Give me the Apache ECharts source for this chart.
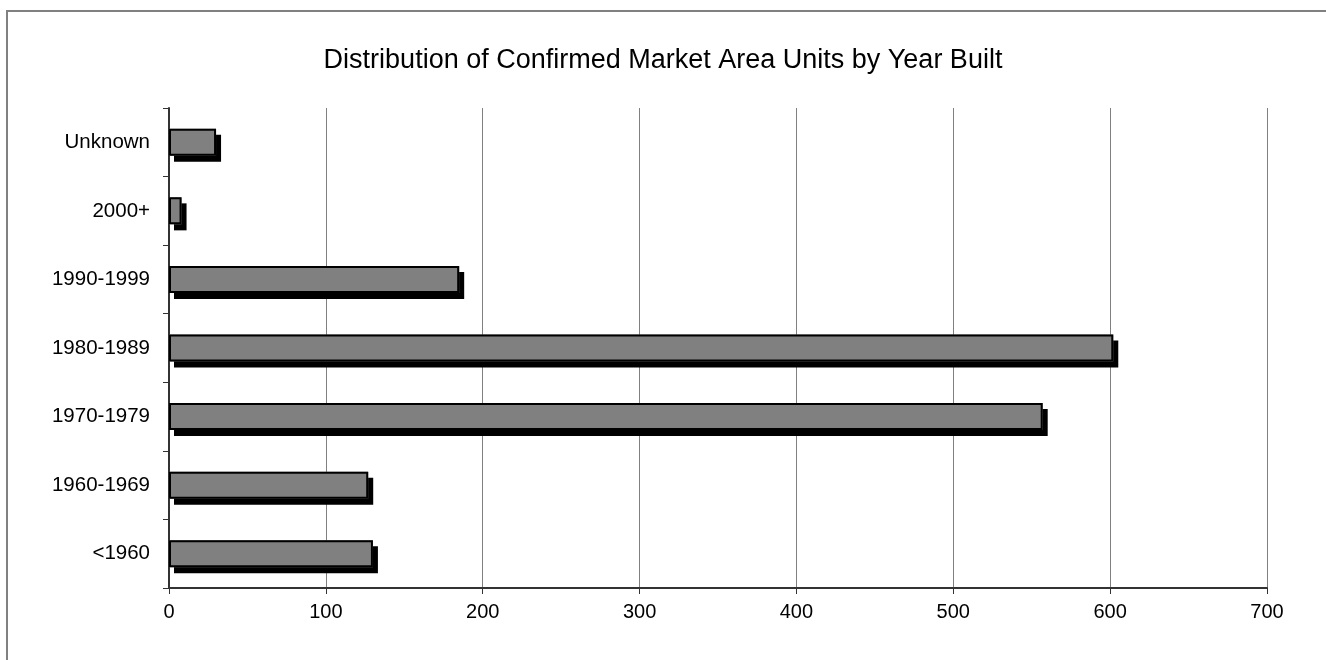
<!DOCTYPE html>
<html>
<head>
<meta charset="utf-8">
<script src="https://cdn.jsdelivr.net/npm/echarts@6/dist/echarts.min.js"></script>
<style>
  html, body { margin: 0; padding: 0; background: #fff; }
  #chart { width: 1326px; height: 660px; }
</style>
</head>
<body>
<div id="chart"></div>
<script>
// categories bottom to top, as the axis draws them
const yearBuilt = ['<1960', '1960-1969', '1970-1979', '1980-1989', '1990-1999', '2000+', 'Unknown'];
const units = [130, 127, 557, 602, 185, 8, 30];
const xTicks = { min: 0, max: 700, interval: 100 };

const chart = echarts.init(document.getElementById('chart'));

const font = '"Liberation Sans", Arial, sans-serif';

chart.setOption({
  backgroundColor: '#fff',
  animation: false,
  title: {
    text: 'Distribution of Confirmed Market Area Units by Year Built',
    left: 'center',
    top: 42,
    textStyle: { fontFamily: font, fontSize: 27, fontWeight: 'normal', color: '#000' }
  },
  graphic: [
    {
      type: 'rect',
      shape: { x: 7, y: 11, width: 1340, height: 680 },
      style: { fill: 'none', stroke: '#808080', lineWidth: 2 },
      silent: true
    }
  ],
  grid: { left: 169, right: 59, top: 108, bottom: 72, containLabel: false },
  xAxis: {
    type: 'value',
    min: xTicks.min,
    max: xTicks.max,
    interval: xTicks.interval,
    axisLine: { show: true, lineStyle: { color: '#333', width: 2 } },
    axisTick: { show: true, length: 6, lineStyle: { color: '#333' } },
    axisLabel: { fontFamily: font, fontSize: 20, color: '#000', margin: 14 },
    splitLine: { show: true, lineStyle: { color: '#808080', width: 1 } }
  },
  yAxis: {
    type: 'category',
    data: yearBuilt,
    axisLine: { show: true, lineStyle: { color: '#333', width: 2 } },
    axisTick: { show: true, length: 6, lineStyle: { color: '#333' } },
    axisLabel: { fontFamily: font, fontSize: 20.5, color: '#000', margin: 19 },
    splitLine: { show: false }
  },
  series: [
    {
      // grey fill with its hard black drop shadow
      type: 'bar',
      data: units,
      barWidth: 27,
      itemStyle: {
        color: '#808080',
        shadowColor: '#000',
        shadowBlur: 0,
        shadowOffsetX: 5,
        shadowOffsetY: 6
      }
    },
    {
      // black outline drawn on top, no shadow
      type: 'bar',
      data: units,
      barWidth: 27,
      barGap: '-100%',
      itemStyle: {
        color: 'rgba(0,0,0,0)',
        borderColor: '#000',
        borderWidth: 2
      }
    }
  ]
});
</script>
</body>
</html>
